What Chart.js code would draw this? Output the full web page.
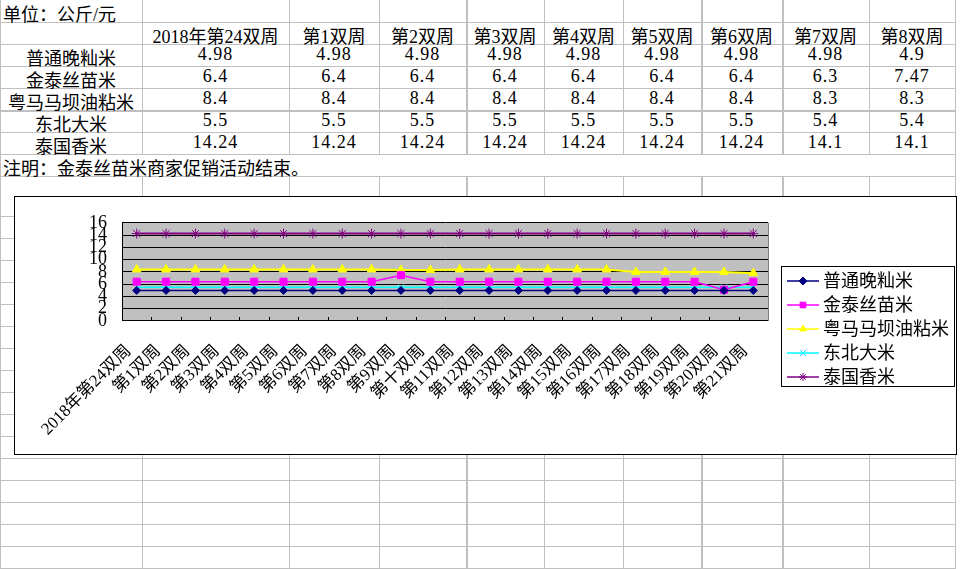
<!DOCTYPE html>
<html>
<head>
<meta charset="utf-8">
<script src="https://cdn.jsdelivr.net/npm/chart.js@4.4.0/dist/chart.umd.min.js"></script>
<style>
html, body { margin: 0; padding: 0; background: #fff; width: 960px; height: 569px; overflow: hidden; }
.hl { position: absolute; height: 1px; background: #c0c0c0; }
.vl { position: absolute; width: 1px; background: #c0c0c0; }
.cell { position: absolute; height: 22px; line-height: 22px; font: 18px "Liberation Serif", "Noto Sans CJK SC"; color: #000; white-space: nowrap; text-align: center; }
.num { letter-spacing: 1px; }
#box { position: absolute; left: 14px; top: 196px; width: 943px; height: 259px; border: 1px solid #000; box-sizing: border-box; background: #fff; }
#box canvas { display: block; }
</style>
</head>
<body>
<div id="sheet"></div>
<div id="box"><canvas id="myChart" width="941" height="257"></canvas></div>
<script>
// data
const weeks = [
    '2018年第24双周', '第1双周', '第2双周', '第3双周', '第4双周', '第5双周',
    '第6双周', '第7双周', '第8双周', '第9双周', '第十双周', '第11双周',
    '第12双周', '第13双周', '第14双周', '第15双周', '第16双周', '第17双周',
    '第18双周', '第19双周', '第20双周', '第21双周',
];
const riceNames = ['普通晚籼米', '金泰丝苗米', '粤马马坝油粘米', '东北大米', '泰国香米'];

// table in the sheet (first 9 columns)
const tableHead = weeks.slice(0, 9);
const tableOrdinary = [4.98, 4.98, 4.98, 4.98, 4.98, 4.98, 4.98, 4.98, 4.9];
const tableJintai = [6.4, 6.4, 6.4, 6.4, 6.4, 6.4, 6.4, 6.3, 7.47];
const tableMaba = [8.4, 8.4, 8.4, 8.4, 8.4, 8.4, 8.4, 8.3, 8.3];
const tableNortheast = [5.5, 5.5, 5.5, 5.5, 5.5, 5.5, 5.5, 5.4, 5.4];
const tableThai = [14.24, 14.24, 14.24, 14.24, 14.24, 14.24, 14.24, 14.1, 14.1];
const unitText = '单位：公斤/元';
const noteText = '注明：金泰丝苗米商家促销活动结束。';

// chart series
const ordinary = [4.98, 4.98, 4.98, 4.98, 4.98, 4.98, 4.98, 4.98, 4.98, 4.98, 4.98,
    4.98, 4.98, 4.98, 4.98, 4.98, 4.98, 4.98, 4.98, 4.98, 4.98, 4.98];
const jintai = [6.4, 6.4, 6.4, 6.4, 6.4, 6.4, 6.4, 6.4, 6.4, 7.47, 6.4,
    6.4, 6.4, 6.4, 6.4, 6.4, 6.4, 6.4, 6.4, 6.4, 5.1, 6.4];
const maba = [8.4, 8.4, 8.4, 8.4, 8.4, 8.4, 8.4, 8.4, 8.4, 8.3, 8.3,
    8.4, 8.4, 8.4, 8.4, 8.4, 8.4, 8.0, 8.0, 8.0, 8.0, 7.8];
const northeast = [5.5, 5.5, 5.5, 5.5, 5.5, 5.5, 5.5, 5.5, 5.5, 5.5, 5.5,
    5.5, 5.5, 5.5, 5.5, 5.5, 5.5, 5.5, 5.5, 5.5, 5.5, 5.5];
const thai = [14.24, 14.24, 14.24, 14.24, 14.24, 14.24, 14.24, 14.24, 14.24, 14.24, 14.24,
    14.24, 14.24, 14.24, 14.24, 14.24, 14.24, 14.24, 14.24, 14.24, 14.24, 14.24];

const colors = ['#000080', '#ff00ff', '#ffff00', '#00ffff', '#800080'];
const markers = ['rectRot', 'rect', 'triangle', 'crossRot', 'star'];
const markerSize = [4, 5, 5, 4, 5];
const lineWidths = [1.5, 1.5, 2, 1.5, 2];

// spreadsheet grid
const sheet = document.getElementById('sheet');
const colEdges = [0, 142, 289, 379, 466, 544, 623, 701, 782, 869, 955];
const thickCols = [466, 701, 782];
const rowEdges = [22, 44, 66, 88, 110, 132, 154, 176];
for (let y = 216; y <= 569; y += 22) rowEdges.push(y);

function addDiv(cls, css, text) {
    const d = document.createElement('div');
    d.className = cls;
    Object.assign(d.style, css);
    if (text !== undefined) d.textContent = text;
    sheet.appendChild(d);
    return d;
}

rowEdges.forEach(y => {
    addDiv('hl', { left: '0px', top: y + 'px', width: '956px', height: (y === 110 ? 2 : 1) + 'px' });
});
colEdges.forEach(x => {
    const w = thickCols.includes(x) ? '2px' : '1px';
    if (x === 0 || x === 955) {
        addDiv('vl', { left: x + 'px', top: '0px', height: '569px', width: w });
    } else {
        addDiv('vl', { left: x + 'px', top: '0px', height: '154px', width: w });
        addDiv('vl', { left: x + 'px', top: '176px', height: '393px', width: w });
    }
});

function cellAt(col, row, text, cls) {
    const x0 = colEdges[col], x1 = colEdges[col + 1];
    addDiv(cls || 'cell', { left: x0 + 'px', top: (row * 22) + 'px', width: (x1 - x0) + 'px' }, text);
}

addDiv('cell', { left: '3px', top: '0px', textAlign: 'left' }, unitText);
tableHead.forEach((h, i) => cellAt(i + 1, 1, h));
const tableRows = [tableOrdinary, tableJintai, tableMaba, tableNortheast, tableThai];
tableRows.forEach((vals, r) => {
    cellAt(0, r + 2, riceNames[r]);
    vals.forEach((v, i) => cellAt(i + 1, r + 2, String(v), 'cell num'));
});
addDiv('cell', { left: '3px', top: '154px', textAlign: 'left' }, noteText);

// chart
const fontFamily = '"Liberation Serif", "Noto Sans CJK SC"';
const seriesData = [ordinary, jintai, maba, northeast, thai];

const datasets = riceNames.map((name, i) => ({
    label: name,
    data: seriesData[i],
    borderColor: colors[i],
    backgroundColor: colors[i],
    borderWidth: lineWidths[i],
    pointStyle: markers[i],
    pointRadius: markerSize[i],
    pointBorderWidth: 1,
    pointBorderColor: colors[i],
    pointBackgroundColor: colors[i],
    fill: false,
    tension: 0,
}));

const framePlugin = {
    id: 'frame',
    beforeDraw(c) {
        const a = c.chartArea, g = c.ctx;
        g.save();
        g.fillStyle = '#c0c0c0';
        g.fillRect(a.left, a.top, a.right - a.left, a.bottom - a.top);
        g.restore();
    },
    afterDraw(c) {
        const a = c.chartArea, g = c.ctx;
        g.save();
        g.strokeStyle = '#808080';
        g.lineWidth = 1;
        g.beginPath();
        g.moveTo(Math.round(a.right) + 0.5, a.top);
        g.lineTo(Math.round(a.right) + 0.5, a.bottom);
        g.stroke();
        // tick marks between categories, pointing up into the plot
        g.strokeStyle = '#000';
        const n = c.data.labels.length;
        const step = (a.right - a.left) / n;
        g.beginPath();
        for (let i = 1; i < n; i++) {
            const x = Math.round(a.left + i * step) + 0.5;
            g.moveTo(x, a.bottom);
            g.lineTo(x, a.bottom - 4);
        }
        g.stroke();
        g.restore();
    }
};

const legendPlugin = {
    id: 'sideLegend',
    afterDraw(c) {
        const g = c.ctx;
        const bx = 766, by = 69, bw = 173, bh = 120;
        g.save();
        g.fillStyle = '#fff';
        g.fillRect(bx, by, bw, bh);
        g.strokeStyle = '#000';
        g.lineWidth = 1;
        g.strokeRect(bx + 0.5, by + 0.5, bw, bh);
        g.font = '18px ' + fontFamily;
        g.textBaseline = 'middle';
        c.data.datasets.forEach((ds, i) => {
            const y = by + 15 + i * 24;
            g.strokeStyle = ds.borderColor;
            g.fillStyle = ds.borderColor;
            g.lineWidth = 1.5;
            g.beginPath();
            g.moveTo(bx + 6, y);
            g.lineTo(bx + 38, y);
            g.stroke();
            g.lineWidth = 1;
            if (Chart.helpers && Chart.helpers.drawPoint) {
                Chart.helpers.drawPoint(g, { pointStyle: ds.pointStyle, radius: 4, rotation: 0, borderWidth: 1 }, bx + 22, y);
            }
            g.fillStyle = '#000';
            g.fillText(ds.label, bx + 42, y + 1);
        });
        g.restore();
    }
};

const config = {
    type: 'line',
    data: { labels: weeks, datasets: datasets },
    options: {
        responsive: false,
        animation: false,
        devicePixelRatio: 1,
        layout: { padding: { top: 24, right: 188, left: 0, bottom: 0 } },
        plugins: { legend: { display: false }, tooltip: { enabled: false } },
        scales: {
            x: {
                offset: true,
                grid: { display: false, drawTicks: false },
                border: { display: true, color: '#000', width: 1 },
                ticks: {
                    autoSkip: false,
                    minRotation: 45,
                    maxRotation: 45,
                    padding: 20,
                    labelOffset: -8,
                    color: '#000',
                    font: { family: fontFamily, size: 17 },
                },
                afterFit(s) { s.height = 133; },
            },
            y: {
                min: 0,
                max: 16,
                grid: { color: '#000', drawTicks: false },
                border: { display: true, color: '#000', width: 1 },
                ticks: {
                    stepSize: 2,
                    autoSkip: false,
                    padding: 15,
                    color: '#000',
                    font: { family: fontFamily, size: 18 },
                },
                afterFit(s) { s.width = 107; },
            },
        },
    },
    plugins: [framePlugin, legendPlugin],
};

const myChart = new Chart(document.getElementById('myChart'), config);
</script>
</body>
</html>
